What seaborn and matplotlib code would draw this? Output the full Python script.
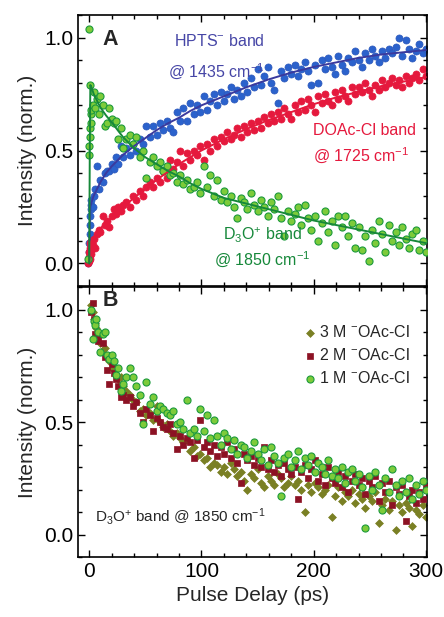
import numpy as np
import pandas as pd
import matplotlib
matplotlib.use('Agg')
import matplotlib.pyplot as plt
import seaborn as sns
from matplotlib.ticker import MultipleLocator

# ---- Panel A: delays (ps) shared by the three bands ----
delays_a = [-1.0, -0.6, -0.3, 0.0, 0.3, 0.6, 0.9, 1.2, 1.5, 2.0, 3.0, 4.0, 5.5, 7.0, 8.5,
            10, 12, 14, 16, 18, 20, 22, 24, 26, 28,
            30, 33, 36, 39, 42, 45, 48, 51, 54, 57, 60, 63, 66, 69, 72, 75, 78, 81, 84, 87,
            90, 93, 96, 99, 102, 105, 108, 111, 114, 117, 120, 123, 126, 129, 132, 135, 138,
            141, 144, 147, 150, 153, 156, 159, 162, 165, 168, 171, 174, 177, 180, 183, 186,
            189, 192, 195, 198, 201, 204, 207, 210, 213, 216, 219, 222, 225, 228, 231, 234,
            237, 240, 243, 246, 249, 252, 255, 258, 261, 264, 267, 270, 273, 276, 279, 282,
            285, 288, 291, 294, 297, 300]

hpts = [0.00, 0.02, 0.05, 0.09, 0.13, 0.17, 0.21, 0.24, 0.26, 0.28, 0.25, 0.30, 0.33, 0.43, 0.33,
        0.37, 0.36, 0.40, 0.41, 0.41, 0.44, 0.42, 0.47, 0.44, 0.52,
        0.47, 0.51, 0.48, 0.53, 0.50, 0.55, 0.53, 0.61, 0.56, 0.61, 0.57, 0.62, 0.59, 0.63, 0.60,
        0.58, 0.67, 0.63, 0.69, 0.63, 0.71, 0.66, 0.70, 0.67, 0.74, 0.68, 0.72, 0.75, 0.70, 0.76,
        0.72, 0.75, 0.78, 0.73, 0.77, 0.74, 0.80, 0.76, 0.82, 0.78, 0.86, 0.79, 0.83, 0.87, 0.80,
        0.77, 0.71, 0.85, 0.82, 0.87, 0.84, 0.88, 0.83, 0.86, 0.89, 0.85, 0.79, 0.88, 0.80, 0.90,
        0.86, 0.91, 0.87, 0.84, 0.92, 0.88, 0.85, 0.91, 0.89, 0.94, 0.90, 0.87, 0.93, 0.90, 0.95,
        0.92, 0.89, 0.94, 0.91, 0.95, 0.93, 0.96, 1.00, 0.92, 0.99, 0.95, 0.91, 0.94, 0.97, 0.93,
        0.95]

doac = [0.00, 0.01, 0.03, 0.05, 0.02, 0.07, 0.09, 0.04, 0.10, 0.06, 0.08, 0.11, 0.07, 0.13, 0.15,
        0.14, 0.21, 0.17, 0.19, 0.16, 0.21, 0.24, 0.22, 0.25, 0.23,
        0.26, 0.27, 0.25, 0.30, 0.28, 0.32, 0.30, 0.34, 0.36, 0.34, 0.38, 0.36, 0.41, 0.38, 0.46,
        0.42, 0.45, 0.50, 0.43, 0.49, 0.46, 0.50, 0.48, 0.52, 0.46, 0.53, 0.50, 0.55, 0.52, 0.56,
        0.54, 0.58, 0.55, 0.57, 0.60, 0.56, 0.61, 0.58, 0.62, 0.59, 0.63, 0.60, 0.65, 0.62, 0.66,
        0.63, 0.67, 0.64, 0.69, 0.66, 0.64, 0.70, 0.67, 0.72, 0.68, 0.73, 0.70, 0.67, 0.74, 0.71,
        0.75, 0.72, 0.70, 0.76, 0.73, 0.77, 0.74, 0.72, 0.78, 0.75, 0.78, 0.76, 0.80, 0.77, 0.74,
        0.79, 0.77, 0.81, 0.78, 0.80, 0.82, 0.79, 0.81, 0.78, 0.83, 0.80, 0.82, 0.84, 0.81, 0.86,
        0.83]

d3o = [0.02, 1.04, 0.48, 0.52, 0.56, 0.79, 0.60, 0.62, 0.66, 0.68, 0.70, 0.76, 0.69, 0.73, 0.66,
       0.74, 0.70, 0.61, 0.62, 0.69, 0.64, 0.62, 0.63, 0.55, 0.60,
       0.51, 0.55, 0.57, 0.53, 0.56, 0.47, 0.50, 0.38, 0.45, 0.47, 0.43, 0.45, 0.41, 0.43, 0.39,
       0.40, 0.36, 0.39, 0.35, 0.37, 0.33, 0.34, 0.36, 0.31, 0.43, 0.34, 0.39, 0.30, 0.37, 0.28,
       0.32, 0.27, 0.30, 0.25, 0.20, 0.29, 0.27, 0.24, 0.31, 0.26, 0.23, 0.28, 0.25, 0.21, 0.27,
       0.24, 0.30, 0.20, 0.12, 0.23, 0.19, 0.22, 0.25, 0.17, 0.26, 0.20, 0.15, 0.21, 0.10, 0.18,
       0.23, 0.14, 0.19, 0.08, 0.21, 0.16, 0.21, 0.12, 0.18, 0.07, 0.16, 0.06, 0.12, 0.01, 0.15,
       0.09, 0.19, 0.13, 0.05, 0.17, 0.10, 0.14, 0.08, 0.16, 0.11, 0.07, 0.13, 0.15, 0.06, 0.10,
       0.05]

# fitted curves (panel A)
fit_t = [0, 0.5, 1, 2, 4, 7, 10, 15, 20, 30, 40, 50, 60, 70, 80, 90, 100, 120, 140, 160,
         180, 200, 220, 240, 260, 280, 300]
fit_hpts = [0.00, 0.15, 0.25, 0.27, 0.30, 0.33, 0.36, 0.40, 0.43, 0.48, 0.52, 0.555, 0.59,
            0.62, 0.645, 0.675, 0.70, 0.74, 0.78, 0.815, 0.845, 0.87, 0.89, 0.91, 0.925,
            0.935, 0.945]
fit_doac = [0.00, 0.05, 0.09, 0.10, 0.115, 0.14, 0.155, 0.18, 0.20, 0.25, 0.29, 0.33, 0.37,
            0.405, 0.44, 0.47, 0.50, 0.55, 0.595, 0.635, 0.67, 0.705, 0.735, 0.76, 0.785,
            0.805, 0.825]
fit_d3o = [0.00, 0.50, 0.79, 0.78, 0.75, 0.72, 0.69, 0.655, 0.625, 0.56, 0.51, 0.47, 0.44,
           0.41, 0.385, 0.355, 0.33, 0.29, 0.265, 0.24, 0.215, 0.19, 0.17, 0.15, 0.13,
           0.11, 0.09]

# ---- Panel B: D3O+ band for three acetate concentrations ----
delays_b = [2, 3, 4, 5, 6, 8, 10, 12, 14, 16, 18, 20, 22, 24, 26, 28, 30,
            33, 36, 39, 42, 45, 48, 51, 54, 57, 60, 63, 66, 69, 72, 75, 78, 81, 84, 87,
            90, 93, 96, 99, 102, 105, 108, 111, 114, 117, 120, 123, 126, 129, 132, 135, 138,
            141, 144, 147, 150, 153, 156, 159, 162, 165, 168, 171, 174, 177, 180, 183, 186,
            189, 192, 195, 198, 201, 204, 207, 210, 213, 216, 219, 222, 225, 228, 231, 234,
            237, 240, 243, 246, 249, 252, 255, 258, 261, 264, 267, 270, 273, 276, 279, 282,
            285, 288, 291, 294, 297, 300]

conc_1m = [1.00, 0.87, 0.95, 0.93, 0.96, 0.90, 0.81, 0.89, 0.90, 0.80, 0.78, 0.80, 0.77, 0.71,
           0.74, 0.64, 0.67,
           0.70, 0.74, 0.70, 0.66, 0.62, 0.49, 0.68, 0.58, 0.61, 0.55, 0.57, 0.56, 0.54, 0.53,
           0.55, 0.49, 0.50, 0.47, 0.60, 0.45, 0.47, 0.44, 0.56, 0.46, 0.53, 0.43, 0.51, 0.44,
           0.40, 0.45, 0.43, 0.38, 0.42, 0.36, 0.40, 0.39, 0.34, 0.37, 0.41, 0.36, 0.33, 0.38,
           0.31, 0.39, 0.35, 0.32, 0.17, 0.34, 0.36, 0.30, 0.33, 0.37, 0.29, 0.34, 0.31, 0.35,
           0.28, 0.32, 0.30, 0.27, 0.33, 0.26, 0.29, 0.25, 0.30, 0.23, 0.28, 0.29, 0.24, 0.27,
           0.21, 0.03, 0.26, 0.20, 0.28, 0.22, 0.11, 0.25, 0.19, 0.29, 0.22, 0.17, 0.24, 0.19,
           0.25, 0.16, 0.22, 0.18, 0.24, 0.20]

conc_2m = [0.99, 1.03, 0.96, 0.89, 0.88, 0.86, 0.89, 0.85, 0.79, 0.73, 0.67, 0.76, 0.72, 0.69,
           0.66, 0.61, 0.62,
           0.60, 0.61, 0.57, 0.59, 0.54, 0.50, 0.56, 0.53, 0.46, 0.52, 0.50, 0.48, 0.47, 0.49,
           0.45, 0.38, 0.44, 0.40, 0.43, 0.41, 0.34, 0.42, 0.51, 0.39, 0.41, 0.37, 0.40, 0.35,
           0.39, 0.36, 0.41, 0.34, 0.38, 0.32, 0.23, 0.36, 0.33, 0.35, 0.31, 0.34, 0.30, 0.39,
           0.29, 0.33, 0.28, 0.31, 0.26, 0.32, 0.29, 0.27, 0.30, 0.16, 0.28, 0.31, 0.25, 0.29,
           0.33, 0.24, 0.27, 0.22, 0.30, 0.25, 0.23, 0.28, 0.21, 0.26, 0.19, 0.24, 0.27, 0.22,
           0.25, 0.18, 0.24, 0.21, 0.26, 0.15, 0.23, 0.19, 0.24, 0.13, 0.21, 0.18, 0.22, 0.06,
           0.17, 0.20, 0.14, 0.19, 0.16, 0.21]

conc_3m = [1.02, 0.99, 0.96, 0.94, 0.92, 0.88, 0.85, 0.82, 0.83, 0.79, 0.77, 0.74, 0.75, 0.71,
           0.69, 0.70, 0.66,
           0.64, 0.62, 0.60, 0.59, 0.55, 0.56, 0.53, 0.54, 0.51, 0.57, 0.50, 0.48, 0.49, 0.46,
           0.44, 0.45, 0.43, 0.41, 0.42, 0.37, 0.39, 0.35, 0.36, 0.33, 0.34, 0.30, 0.32, 0.31,
           0.28, 0.30, 0.27, 0.32, 0.29, 0.26, 0.28, 0.24, 0.20, 0.27, 0.25, 0.29, 0.23, 0.21,
           0.26, 0.24, 0.22, 0.27, 0.25, 0.21, 0.23, 0.26, 0.22, 0.24, 0.20, 0.10, 0.22, 0.19,
           0.23, 0.21, 0.18, 0.20, 0.22, 0.08, 0.17, 0.21, 0.15, 0.19, 0.17, 0.20, 0.14, 0.18,
           0.16, 0.12, 0.17, 0.15, 0.19, 0.05, 0.13, 0.16, 0.11, 0.15, 0.02, 0.13, 0.10, 0.14,
           0.12, 0.04, 0.11, 0.09, 0.13, 0.08]

panel_a = pd.DataFrame({'delay': delays_a, 'hpts': hpts, 'doac': doac, 'd3o': d3o})
fits_a = pd.DataFrame({'delay': fit_t, 'hpts': fit_hpts, 'doac': fit_doac, 'd3o': fit_d3o})
panel_b = pd.DataFrame({'delay': delays_b, '1M': conc_1m, '2M': conc_2m, '3M': conc_3m})

sns.set_style('ticks')
plt.rcParams['font.family'] = ['Liberation Sans', 'DejaVu Sans']
plt.rcParams['mathtext.fontset'] = 'custom'
plt.rcParams['mathtext.rm'] = 'Liberation Sans'
plt.rcParams['mathtext.it'] = 'Liberation Sans:italic'
plt.rcParams['mathtext.bf'] = 'Liberation Sans:bold'
plt.rcParams['mathtext.default'] = 'regular'

blue, blue_line, blue_text = '#2b62cc', '#3a3a9e', '#4646a6'
red = '#e5193d'
green_face, green_edge, green_line = '#7dcb3a', '#1c9a3c', '#16883a'
olive, darkred = '#7a8024', '#8c1224'

fig = plt.figure(figsize=(4.44, 6.17), dpi=100)
ax_a = fig.add_axes([78 / 444, 1 - 286 / 617, 349 / 444, 271 / 617])
ax_b = fig.add_axes([78 / 444, 1 - 557 / 617, 349 / 444, 270 / 617], sharex=ax_a)

# Panel A
sns.scatterplot(data=panel_a, x='delay', y='hpts', ax=ax_a, color=blue, s=26,
                edgecolor='#2d58bb', linewidth=0.5, zorder=2)
sns.scatterplot(data=panel_a, x='delay', y='doac', ax=ax_a, color=red, s=26,
                edgecolor=red, linewidth=0.5, zorder=2)
sns.scatterplot(data=panel_a, x='delay', y='d3o', ax=ax_a, color=green_face, s=26,
                edgecolor=green_edge, linewidth=0.8, zorder=3)
sns.lineplot(data=fits_a, x='delay', y='hpts', ax=ax_a, color=blue_line, lw=1.4, zorder=4)
sns.lineplot(data=fits_a, x='delay', y='doac', ax=ax_a, color=red, lw=1.4, zorder=4)
sns.lineplot(data=fits_a, x='delay', y='d3o', ax=ax_a, color=green_line, lw=1.4, zorder=4)

ax_a.text(12, 0.99, 'A', fontsize=15.5, fontweight='bold', va='center', ha='left')
ax_a.text(156, 0.985, 'HPTS$^{-}$ band', fontsize=11.5, color=blue_text, ha='right', va='center')
ax_a.text(156, 0.85, '@ 1435 cm$^{-1}$', fontsize=11.5, color=blue_text, ha='right', va='center')
ax_a.text(199, 0.59, 'DOAc-Cl band', fontsize=11.5, color=red, ha='left', va='center')
ax_a.text(199, 0.48, '@ 1725 cm$^{-1}$', fontsize=11.5, color=red, ha='left', va='center')
ax_a.text(154, 0.125, 'D$_3$O$^{+}$ band', fontsize=11.5, color=green_line, ha='center', va='center')
ax_a.text(154, 0.02, '@ 1850 cm$^{-1}$', fontsize=11.5, color=green_line, ha='center', va='center')

# Panel B
sns.scatterplot(data=panel_b, x='delay', y='3M', ax=ax_b, color=olive, marker='D', s=16,
                edgecolor=olive, linewidth=0.5, label='3 M $^{-}$OAc-Cl', zorder=2)
sns.scatterplot(data=panel_b, x='delay', y='2M', ax=ax_b, color=darkred, marker='s', s=22,
                edgecolor=darkred, linewidth=0.5, label='2 M $^{-}$OAc-Cl', zorder=3)
sns.scatterplot(data=panel_b, x='delay', y='1M', ax=ax_b, color=green_face, s=26,
                edgecolor=green_edge, linewidth=0.8, label='1 M $^{-}$OAc-Cl', zorder=4)

ax_b.text(12, 1.04, 'B', fontsize=15.5, fontweight='bold', va='center', ha='left')
ax_b.text(5, 0.08, 'D$_3$O$^{+}$ band @ 1850 cm$^{-1}$', fontsize=11, ha='left', va='center')

leg = ax_b.legend(loc='upper right', bbox_to_anchor=(0.97, 0.885), frameon=False, fontsize=11.5,
                  handletextpad=0.1, labelspacing=0.42, handlelength=1.0, borderaxespad=0)

for ax in (ax_a, ax_b):
    ax.set_xlim(-10, 301)
    ax.set_ylim(-0.1, 1.1)
    ax.xaxis.set_major_locator(MultipleLocator(100))
    ax.xaxis.set_minor_locator(MultipleLocator(20))
    ax.yaxis.set_major_locator(MultipleLocator(0.5))
    ax.yaxis.set_minor_locator(MultipleLocator(0.1))
    ax.tick_params(which='both', direction='in', top=True, right=True, width=1.0,
                   labelsize=15, colors='black')
    ax.tick_params(which='major', length=5)
    ax.tick_params(which='minor', length=3)
    for sp in ax.spines.values():
        sp.set_linewidth(1.2)
        sp.set_color('black')
    ax.set_ylabel('Intensity (norm.)', fontsize=15, labelpad=5)

ax_a.set_xlabel('')
ax_a.tick_params(labelbottom=False)
ax_b.set_xlabel('Pulse Delay (ps)', fontsize=15, labelpad=4)

fig.savefig('out.png', dpi=100)
